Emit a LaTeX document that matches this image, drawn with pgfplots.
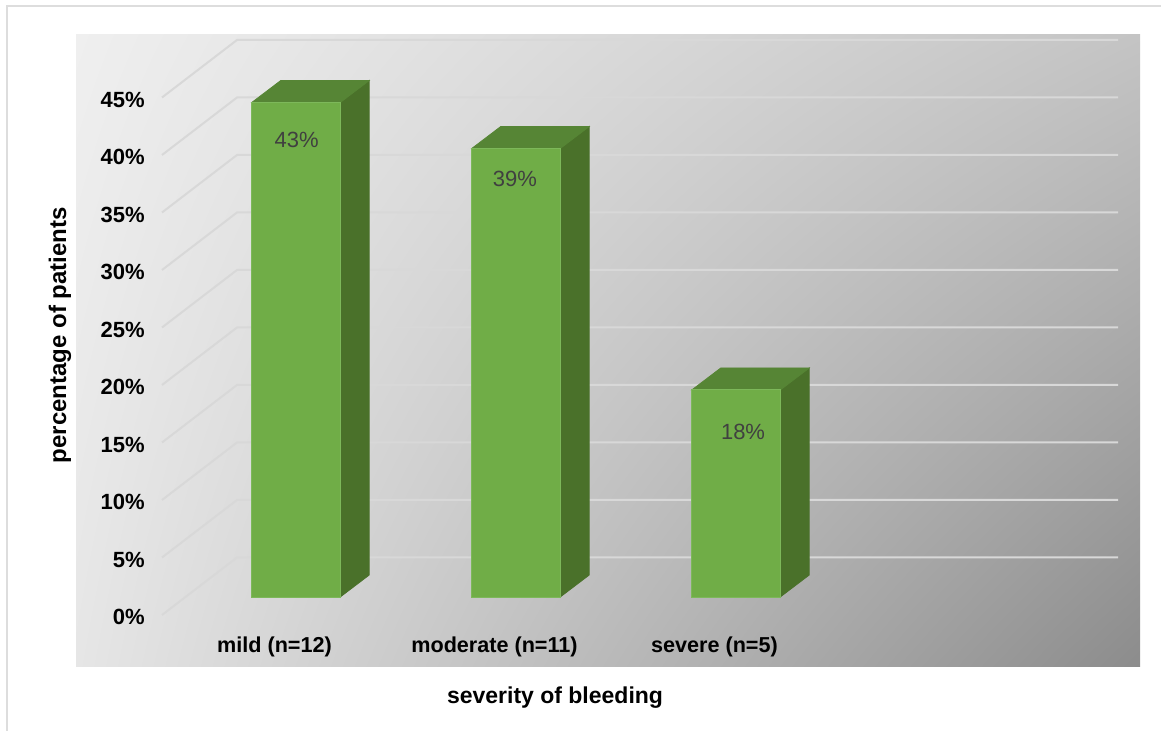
\documentclass[border=0pt]{standalone}
\usepackage{pgfplots}
\pgfplotsset{compat=1.18}
\usetikzlibrary{shadings}
\usepackage{fontspec}
\setmainfont{Liberation Sans}
\definecolor{frontg}{HTML}{70AD47}
\definecolor{frontedge}{HTML}{7DB85A}
\definecolor{topg}{HTML}{568535}
\definecolor{sideg}{HTML}{4A712A}
\definecolor{gridc}{HTML}{D8D8D8}
\definecolor{lblgray}{HTML}{404040}
\definecolor{framec}{HTML}{DDDDDD}
\definecolor{bgul}{HTML}{EFEFEF}
\definecolor{bgur}{HTML}{C4C4C4}
\definecolor{bgll}{HTML}{E6E6E6}
\definecolor{bglr}{HTML}{8C8C8C}
\begin{document}
\begin{tikzpicture}
\path[use as bounding box] (0,0) rectangle (580.5pt,365.5pt);
\draw[framec, line width=1pt] (3.65pt,0) -- (3.65pt,362.25pt) -- (580.5pt,362.25pt);
\begin{axis}[
  at={(38pt,32.15pt)}, anchor=south west,
  scale only axis, width=532pt, height=315.85pt,
  xmin=-1.0, xmax=3.8364, ymin=-6.06, ymax=48.87,
  axis line style={draw=none}, major tick length=0pt,
  axis background/.style={shade, upper left=bgul, upper right=bgur, lower left=bgll, lower right=bglr},
  ytick={-1.739,3.261,8.261,13.261,18.261,23.261,28.261,33.261,38.261,43.261},
  yticklabels={0\%,5\%,10\%,15\%,20\%,25\%,30\%,35\%,40\%,45\%},
  yticklabel style={anchor=east, inner sep=0pt, xshift=34.5pt, font=\bfseries\fontsize{11}{13}\selectfont},
  xtick={0,1,2},
  xticklabels={mild (n=12),moderate (n=11),severe (n=5)},
  xticklabel style={anchor=base, inner sep=0pt, yshift=6.85pt, xshift=-10.75pt, font=\bfseries\fontsize{10.8}{13}\selectfont},
  xlabel={severity of bleeding},
  xlabel style={at={(axis description cs:0.4502,-0.0495)}, anchor=center, font=\bfseries\fontsize{11.5}{13}\selectfont},
  ylabel={percentage of patients},
  ylabel style={at={(axis description cs:-0.015,0.525)}, anchor=center, font=\bfseries\fontsize{12}{14}\selectfont},
  unbounded coords=jump,
]
% back-wall and side-wall gridlines
\addplot[gridc, line width=1pt, mark=none] coordinates {
(-0.6091,-1.565) (-0.2682,3.435) (3.7364,3.435) (nan,nan)
(-0.6091,3.435) (-0.2682,8.435) (3.7364,8.435) (nan,nan)
(-0.6091,8.435) (-0.2682,13.435) (3.7364,13.435) (nan,nan)
(-0.6091,13.435) (-0.2682,18.435) (3.7364,18.435) (nan,nan)
(-0.6091,18.435) (-0.2682,23.435) (3.7364,23.435) (nan,nan)
(-0.6091,23.435) (-0.2682,28.435) (3.7364,28.435) (nan,nan)
(-0.6091,28.435) (-0.2682,33.435) (3.7364,33.435) (nan,nan)
(-0.6091,33.435) (-0.2682,38.435) (3.7364,38.435) (nan,nan)
(-0.6091,38.435) (-0.2682,43.435) (3.7364,43.435) (nan,nan)
(-0.6091,43.435) (-0.2682,48.435) (3.7364,48.435)
};
% side faces
\addplot[fill=sideg, draw=sideg, line width=0.4pt, mark=none] coordinates {(0.2011,0) (0.3329,1.913) (0.3329,44.913) (0.2011,43)} -- cycle;
\addplot[fill=sideg, draw=sideg, line width=0.4pt, mark=none] coordinates {(1.2011,0) (1.3329,1.913) (1.3329,40.913) (1.2011,39)} -- cycle;
\addplot[fill=sideg, draw=sideg, line width=0.4pt, mark=none] coordinates {(2.2011,0) (2.3329,1.913) (2.3329,19.913) (2.2011,18)} -- cycle;
% top faces
\addplot[fill=topg, draw=topg, line width=0.4pt, mark=none] coordinates {(-0.2011,43) (0.2011,43) (0.3329,44.913) (-0.0693,44.913)} -- cycle;
\addplot[fill=topg, draw=topg, line width=0.4pt, mark=none] coordinates {(0.7989,39) (1.2011,39) (1.3329,40.913) (0.9307,40.913)} -- cycle;
\addplot[fill=topg, draw=topg, line width=0.4pt, mark=none] coordinates {(1.7989,18) (2.2011,18) (2.3329,19.913) (1.9307,19.913)} -- cycle;
% front faces
\addplot[ybar, bar width=44.25pt, fill=frontg, draw=frontedge, line width=0.5pt] coordinates {(0,43) (1,39) (2,18)};
% data labels
\addplot[draw=none, mark=none, nodes near coords, point meta=explicit symbolic,
  every node near coord/.style={anchor=center, text=lblgray, font=\fontsize{11}{13}\selectfont}]
  coordinates {(0.003,39.74)[43\%] (0.995,36.35)[39\%] (2.032,14.35)[18\%]};
\end{axis}
\end{tikzpicture}
\end{document}
